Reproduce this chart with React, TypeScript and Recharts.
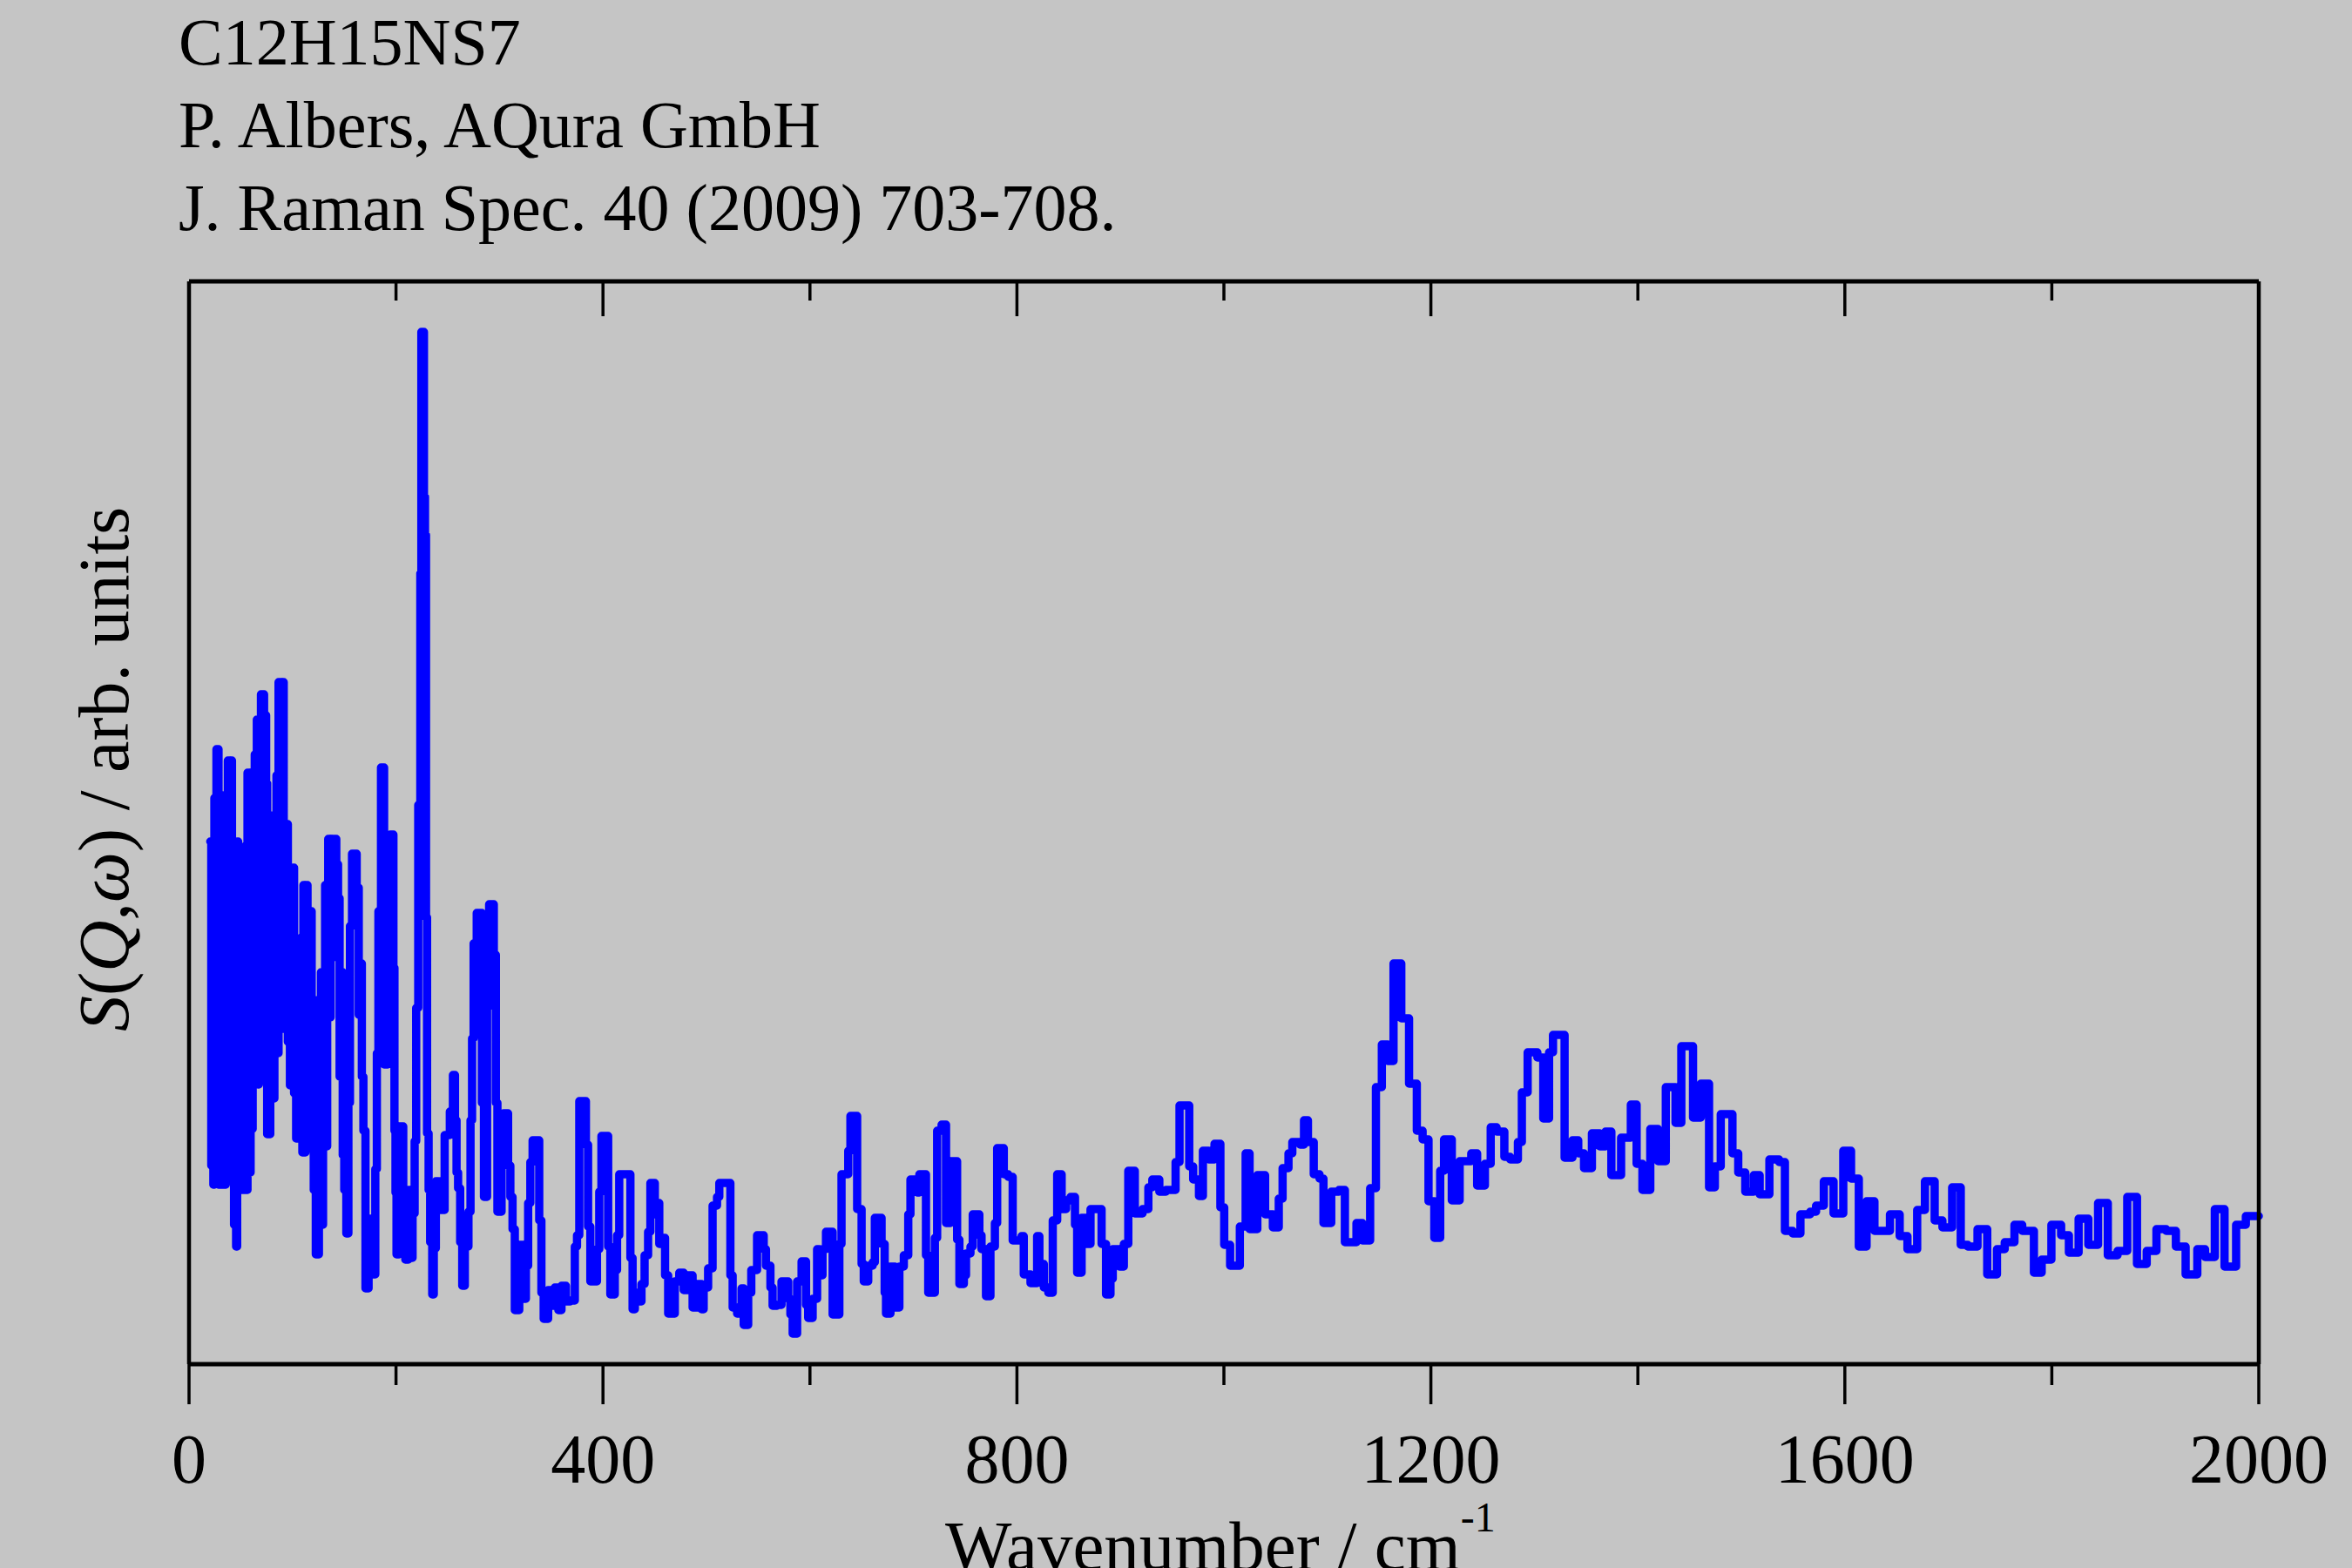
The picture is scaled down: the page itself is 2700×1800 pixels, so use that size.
import React from "react";
import { LineChart, Line, XAxis, YAxis } from "recharts";

// Wavenumber (cm^-1) and S(Q,w) (arb. units)
const latticeBand: [number, number][] = [
  [20.5, 600], [21.5, 228], [22.5, 520], [23.5, 206], [24.5, 650], [25.5, 300], [26.5, 706], [28.5, 206],
  [29.5, 640], [30.5, 250], [31.5, 653], [32.5, 206], [33.5, 560], [34.5, 206], [35.5, 600], [36.5, 230],
  [37.5, 693], [39.5, 220], [40.5, 693], [41.5, 300], [42.5, 600], [43.5, 160], [44.5, 580], [45.5, 135],
  [46.5, 600], [47.5, 200], [48.5, 590], [49.5, 210], [50.5, 560], [51.5, 200], [52.5, 462], [53.5, 200],
  [54.5, 595], [55.5, 200], [56.5, 679], [58.5, 220], [59.5, 679], [60.5, 270], [61.5, 679], [62.5, 321],
  [63.5, 700], [64.5, 330], [65.5, 740], [66.5, 321], [67.5, 740], [68.5, 437], [69.5, 769], [72.5, 449],
  [73.5, 745], [74.5, 667], [75.5, 264], [76.5, 570], [77.5, 264], [78.5, 570], [79.5, 305], [80.5, 630],
  [81.5, 305], [82.5, 630], [83.5, 357], [84.5, 676], [85.5, 357], [86.5, 783], [89.5, 385], [90.5, 783],
  [91.5, 415], [92.5, 620], [93.5, 400], [94.5, 620], [95.5, 370], [96.5, 570], [97.5, 320], [98.5, 570],
  [99.5, 320], [100.5, 570], [101.5, 311], [102.5, 470], [103.5, 259], [104.5, 470], [105.5, 259], [106.5, 440],
  [107.5, 259], [108.5, 490], [109.5, 243], [110.5, 550], [111.5, 243], [112.5, 550], [114.5, 260], [115.5, 520],
  [116.5, 300], [117.5, 520], [118.5, 300], [119.5, 418], [120.5, 200], [121.5, 418], [122.5, 126], [123.5, 300],
  [124.5, 126], [125.5, 418], [126.5, 160], [127.5, 450], [128.5, 160], [129.5, 450], [130.5, 250], [131.5, 550],
  [132.5, 250], [133.5, 550], [134.5, 603], [136, 398], [136.8, 603],
];

const lowBand: [number, number][] = [
  [137.5, 466], [138.5, 603], [142.3, 574], [144, 535], [145.5, 330], [147, 450], [148.5, 240], [150, 200],
  [152, 150], [154, 300], [155.5, 503], [157.5, 586], [162, 547], [164, 401], [165.5, 460], [167, 330],
  [168.5, 268], [170.5, 87], [173.5, 167], [176, 120], [178, 103], [180, 224], [181.5, 357], [183, 520],
  [185.5, 685], [188.5, 344], [192, 568], [194.5, 608], [197.5, 455], [198.5, 268], [199.5, 197], [200.5, 126],
  [203, 273], [207, 180], [209, 120], [212, 200], [214, 122], [216, 173], [218, 256], [219.5, 409],
  [221.5, 642], [223.5, 908], [224.5, 1185], [227, 996], [228, 952], [229, 513], [230, 265], [231.5, 200],
  [233, 140], [235, 80], [236.5, 133], [238.5, 210], [241, 177], [243, 210], [245, 177], [247, 263],
  [252, 290], [255, 332], [257, 280], [258.5, 220], [260, 202], [262, 140], [264, 90], [266.5, 150],
  [268, 135], [270, 175], [272, 280], [273.5, 374], [275, 483], [278, 518], [283, 300], [285, 192],
  [288, 411], [290, 528], [294.5, 470], [296.5, 300], [298, 175], [302, 255], [304, 288], [308.3, 228],
  [310.5, 192], [312.6, 155], [314.8, 62], [319.1, 137], [323.4, 75], [325.5, 113], [327.7, 185], [329.8, 232],
  [332, 257],
];

const midBand: [number, number][] = [
  [338.4, 165], [340.5, 82], [342.7, 52], [347.0, 85], [349.1, 67], [353.4, 88], [356.9, 62], [359.9, 90],
  [364.2, 72], [368.5, 73], [372.8, 135], [374.9, 148], [377.1, 302], [383.5, 252], [385.6, 158], [387.8, 95],
  [394.2, 132], [396.4, 198], [398.5, 262], [405.0, 135], [407.1, 80], [411.4, 108], [413.6, 148], [415.7, 218],
  [426.5, 122], [428.6, 63], [430.8, 82], [435.1, 72], [437.2, 92], [440.2, 125], [443.6, 152], [445.8, 208],
  [450.1, 172], [452.2, 185], [454.4, 138], [456.5, 145], [460.0, 102], [463.0, 58], [469.4, 95], [473.7, 105],
  [478.0, 85], [482.3, 102], [486.6, 65], [490.9, 92], [495.2, 63], [497.3, 88], [501.6, 110], [505.9, 182],
  [510.2, 192], [512.4, 208], [523.1, 102], [525.3, 65], [529.6, 58], [533.9, 87], [536.0, 45], [540.3, 82],
  [543.3, 108], [548.9, 148], [555.3, 132], [557.5, 113], [561.8, 88], [563.9, 67], [568.2, 68], [572.5, 95],
  [579.0, 75], [581.1, 57], [583.3, 35], [587.6, 95], [591.9, 118], [596.2, 68], [598.3, 53], [602.6, 75],
  [606.9, 132], [609.0, 102], [612.1, 132], [615.5, 152], [621.9, 57], [628.4, 138], [630.5, 218], [637.0, 245],
  [639.1, 285], [645.6, 178], [649.9, 115], [652.0, 95], [656.3, 113], [660.6, 117], [662.7, 168], [669.2, 138],
  [672.2, 82], [673.5, 58], [677.8, 112], [682.1, 65], [686.4, 112], [690.7, 125], [695.0, 172], [697.1, 212],
  [703.6, 197], [705.7, 218], [712.1, 125], [714.3, 82], [720.7, 145], [722.9, 268], [727.2, 275], [731.5, 162],
  [735.8, 233], [742.2, 143], [744.4, 92], [748.7, 102], [750.8, 127], [755.1, 135], [757.3, 172], [763.7, 148],
  [765.8, 132], [770.1, 78], [774.4, 135], [778.7, 162], [780.9, 248], [787.3, 218], [791.6, 215], [795.9, 142],
  [804.5, 147], [806.6, 103], [813.1, 93], [819.5, 147], [821.7, 115], [826.0, 88], [830.3, 82], [834.6, 165],
  [838.9, 218], [843.2, 178], [847.5, 188], [851.8, 192], [856.1, 160], [858.2, 105], [862.5, 168], [866.8, 138],
  [871.1, 178], [881.8, 138], [886.1, 80], [890.4, 98], [892.6, 132], [899.0, 112], [903.3, 138], [907.6, 222],
];

const fingerprintBand: [number, number][] = [
  [913.9, 173], [921.4, 178], [927.0, 203], [930.8, 212], [937.6, 198], [944.0, 200], [953.3, 232], [957.1, 297],
  [966.5, 227], [970.3, 212], [975.9, 193], [979.7, 245], [985.3, 235], [990.9, 253], [996.6, 180], [1000.3, 137],
  [1006.0, 113], [1015.4, 158], [1021.0, 242], [1024.8, 155], [1032.3, 217], [1039.8, 172], [1047.3, 157], [1053.0, 190],
  [1056.7, 225], [1062.4, 242], [1066.1, 255], [1073.6, 252], [1077.4, 280], [1081.2, 255], [1086.8, 218], [1092.4, 213],
  [1096.2, 162], [1103.7, 198], [1111.2, 200], [1116.9, 140], [1128.1, 162], [1133.8, 142], [1141.3, 202], [1146.9, 318],
  [1152.6, 367], [1158.2, 348], [1163.9, 460], [1171.4, 397], [1178.9, 322], [1186.4, 268], [1192.0, 258], [1197.7, 187],
  [1203.3, 145], [1209.0, 222], [1212.7, 258], [1220.2, 188], [1227.8, 233], [1239.0, 242], [1244.7, 205], [1252.2, 230],
  [1257.8, 272], [1263.5, 267], [1271.0, 238], [1276.6, 235], [1284.1, 255], [1287.9, 312], [1293.5, 358], [1302.9, 352],
  [1308.6, 282], [1314.2, 358], [1318.0, 378], [1329.2, 237], [1336.8, 257], [1342.4, 242], [1348.0, 225], [1355.6, 265],
  [1363.1, 250], [1368.7, 267], [1374.4, 217], [1383.8, 260], [1393.2, 298], [1398.8, 230], [1404.4, 200], [1412.0, 270],
  [1419.5, 233], [1427.0, 318], [1436.4, 277], [1442.0, 365], [1453.3, 283], [1460.8, 322],
];

const highBand: [number, number][] = [
  [1468.8, 203], [1474.4, 227], [1480.1, 287], [1491.4, 242], [1497.0, 220], [1503.8, 198], [1512.0, 217], [1517.7, 195],
  [1527.1, 235], [1536.5, 232], [1542.1, 153], [1549.6, 150], [1557.1, 172], [1566.5, 175], [1572.2, 182], [1579.7, 210],
  [1589.1, 173], [1598.5, 245], [1606.0, 213], [1613.5, 135], [1621.0, 187], [1628.6, 153], [1643.6, 172], [1653.0, 147],
  [1660.5, 132], [1669.9, 177], [1677.4, 210], [1686.8, 165], [1694.3, 157], [1703.7, 203], [1712.0, 137], [1718.8, 135],
  [1728.2, 155], [1737.6, 103], [1747.0, 132], [1754.5, 140], [1763.9, 160], [1771.4, 153], [1782.7, 105], [1790.2, 120],
  [1799.6, 160], [1809.0, 148], [1816.5, 128], [1825.9, 167], [1835.3, 137], [1844.7, 185], [1854.1, 125], [1863.5, 130],
  [1872.9, 192], [1882.3, 115], [1891.7, 130], [1901.1, 155], [1910.5, 153], [1919.9, 135], [1929.3, 103], [1940.6, 132],
  [1948.1, 123], [1957.5, 178], [1966.9, 112], [1978.1, 160], [1987.5, 170], [2000, 170],
];

const xTicks = [0, 200, 400, 600, 800, 1000, 1200, 1400, 1600, 1800, 2000];
const xDomain: [number, number] = [0, 2000];
const yDomain: [number, number] = [0, 1243];

const titleLines = ["C12H15NS7", "P. Albers, AQura GmbH", "J. Raman Spec. 40 (2009) 703-708."];

const data = [...latticeBand, ...lowBand, ...midBand, ...fingerprintBand, ...highBand].map(([w, s]) => ({ w, s }));

const SERIF = "'Liberation Serif', 'Times New Roman', serif";
const BG = "#c5c5c5";

const BottomTick = (props: any) => {
  const { x, y, payload } = props;
  const major = payload.value % 400 === 0;
  return (
    <g>
      <line x1={x} x2={x} y1={y} y2={y + (major ? 46 : 24)} stroke="#000" strokeWidth={3.5} />
      {major && (
        <text x={x} y={y + 136} textAnchor="middle" fontFamily={SERIF} fontSize={80} fill="#000">
          {payload.value}
        </text>
      )}
    </g>
  );
};

const TopTick = (props: any) => {
  const { x, y, payload } = props;
  const major = payload.value % 400 === 0;
  return <line x1={x} x2={x} y1={y} y2={y + (major ? 40 : 22)} stroke="#000" strokeWidth={3.5} />;
};

export default function App() {
  return (
    <div style={{ position: "absolute", left: 0, top: 0, width: 2700, height: 1800, background: BG, overflow: "hidden" }}>
      <LineChart
        width={2700}
        height={1800}
        data={data}
        margin={{ top: 273, right: 97, bottom: 134, left: 207 }}
      >
        <XAxis
          xAxisId="b"
          dataKey="w"
          type="number"
          domain={xDomain}
          ticks={xTicks}
          interval={0}
          orientation="bottom"
          height={100}
          tickSize={0}
          tickMargin={0}
          tickLine={false}
          axisLine={{ stroke: "#000", strokeWidth: 5 }}
          tick={<BottomTick />}
        />
        <XAxis
          xAxisId="t"
          dataKey="w"
          type="number"
          domain={xDomain}
          ticks={xTicks}
          interval={0}
          orientation="top"
          height={50}
          tickSize={0}
          tickMargin={0}
          tickLine={false}
          axisLine={{ stroke: "#000", strokeWidth: 5 }}
          tick={<TopTick />}
        />
        <YAxis
          yAxisId="l"
          type="number"
          domain={yDomain}
          orientation="left"
          width={10}
          tick={false}
          tickLine={false}
          axisLine={{ stroke: "#000", strokeWidth: 4.5 }}
        />
        <YAxis
          yAxisId="r"
          type="number"
          domain={yDomain}
          orientation="right"
          width={10}
          tick={false}
          tickLine={false}
          axisLine={{ stroke: "#000", strokeWidth: 4.5 }}
        />
        <Line
          xAxisId="b"
          yAxisId="l"
          dataKey="s"
          type="stepAfter"
          stroke="#0000ff"
          strokeWidth={9.5}
          strokeLinejoin="round"
          strokeLinecap="round"
          dot={false}
          activeDot={false}
          isAnimationActive={false}
        />
      </LineChart>
      <svg
        width={2700}
        height={1800}
        style={{ position: "absolute", left: 0, top: 0, pointerEvents: "none" }}
      >
        {titleLines.map((t, i) => (
          <text key={i} x={205} y={74 + i * 95} fontFamily={SERIF} fontSize={76} fill="#000">
            {t}
          </text>
        ))}
        <text
          transform="translate(147,883) rotate(-90)"
          textAnchor="middle"
          fontFamily={SERIF}
          fontSize={82}
          fill="#000"
        >
          <tspan fontStyle="italic">S</tspan>
          <tspan>(</tspan>
          <tspan fontStyle="italic">Q</tspan>
          <tspan>,</tspan>
          <tspan fontStyle="italic">ω</tspan>
          <tspan>) / arb. units</tspan>
        </text>
        <text x={1085} y={1802} fontFamily={SERIF} fontSize={81} fill="#000">
          Wavenumber / cm
          <tspan dy={-44} fontSize={48}>-1</tspan>
        </text>
      </svg>
    </div>
  );
}
